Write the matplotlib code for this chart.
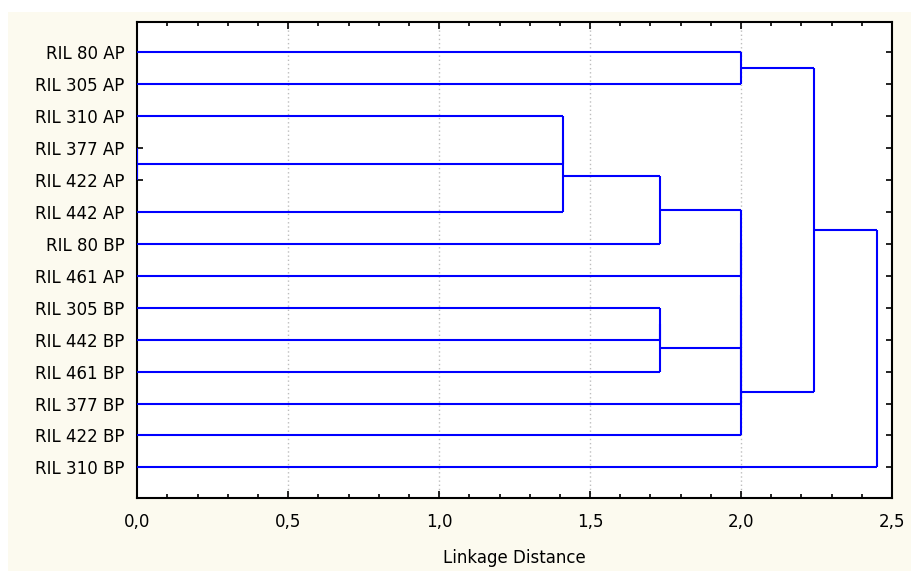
import matplotlib
matplotlib.use("Agg")
import matplotlib.pyplot as plt
from matplotlib.patches import Rectangle
from matplotlib.ticker import MultipleLocator, FuncFormatter

# Leaves in display order (top to bottom)
labels = ["RIL 80 AP", "RIL 305 AP", "RIL 310 AP", "RIL 377 AP", "RIL 422 AP",
          "RIL 442 AP", "RIL 80 BP", "RIL 461 AP", "RIL 305 BP", "RIL 442 BP",
          "RIL 461 BP", "RIL 377 BP", "RIL 422 BP", "RIL 310 BP"]

# Merge steps: (child a, child b, linkage distance); new nodes numbered from 14
merge_a = [3, 2, 15, 16, 8, 18, 0, 17, 21, 22, 23, 20, 25]
merge_b = [4, 14, 5, 6, 9, 10, 1, 7, 19, 11, 12, 24, 13]
merge_d = [0.0, 1.41, 1.41, 1.73, 1.73, 1.73, 2.0, 2.0, 2.0, 2.0, 2.0, 2.24, 2.45]

xticks = [0.0, 0.5, 1.0, 1.5, 2.0, 2.5]

fig = plt.figure(figsize=(9.11, 5.71), dpi=100, facecolor="white")
fig.patches.append(Rectangle((8 / 911, 0), 1 - 8 / 911, 1 - 12 / 571,
                             transform=fig.transFigure, facecolor="#FCFAEF",
                             edgecolor="none", zorder=-10))
ax = fig.add_axes([137.3 / 911, 1 - 497.7 / 571, (892 - 137.3) / 911, (497.7 - 22.3) / 571])
ax.set_facecolor("white")

n = len(labels)
ypos = {i: float(i) for i in range(n)}
xpos = {i: 0.0 for i in range(n)}
color = "#0000FF"
for k, (a, b, d) in enumerate(zip(merge_a, merge_b, merge_d)):
    node = n + k
    for c in (a, b):
        ax.plot([xpos[c], d], [ypos[c], ypos[c]], color=color, lw=1.5,
                solid_capstyle="butt", zorder=3)
    ax.plot([d, d], [ypos[a], ypos[b]], color=color, lw=1.5,
            solid_capstyle="butt", zorder=3)
    ypos[node] = (ypos[a] + ypos[b]) / 2
    xpos[node] = d

ax.set_xlim(0, 2.5)
ax.set_ylim(n - 1 + 0.95, -0.94)
ax.set_yticks(range(n))
ax.set_yticklabels(labels)
ax.set_xticks(xticks)
ax.xaxis.set_major_formatter(FuncFormatter(lambda v, p: f"{v:.1f}".replace(".", ",")))
ax.xaxis.set_minor_locator(MultipleLocator(0.1))

for xv in xticks[1:-1]:
    ax.axvline(xv, color="#BDBDBD", lw=1.0, ls=(0, (1, 2)), zorder=1)

ax.tick_params(axis="both", which="both", direction="in", top=True, right=True,
               colors="black", labelsize=12, width=1.2)
ax.tick_params(axis="y", which="major", length=4, pad=9)
ax.tick_params(axis="x", which="major", length=5, pad=11)
ax.tick_params(axis="x", which="minor", length=3)
for lab in ax.get_yticklabels() + ax.get_xticklabels():
    lab.set_fontfamily("DejaVu Sans")
for sp in ax.spines.values():
    sp.set_linewidth(1.5)
    sp.set_color("black")

ax.set_xlabel("Linkage Distance", fontsize=12, fontfamily="DejaVu Sans", labelpad=13)

fig.savefig("out.png", dpi=100, facecolor=fig.get_facecolor())
